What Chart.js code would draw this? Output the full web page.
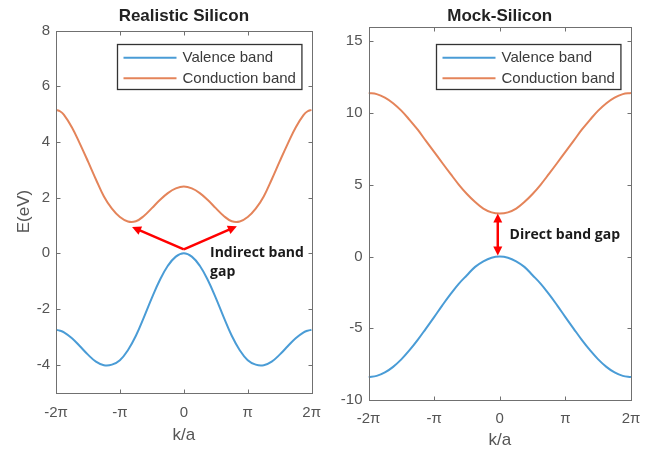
<!DOCTYPE html>
<html><head><meta charset="utf-8">
<script src="https://cdn.jsdelivr.net/npm/chart.js@4.4.1/dist/chart.umd.min.js"></script>
<style>
html,body{margin:0;padding:0;background:#fff;}
#wrap{position:relative;width:657px;height:452px;overflow:hidden;background:#fff;}
canvas{position:absolute;top:0;}
</style></head><body>
<div id="wrap">
<canvas id="left" width="332" height="452" style="left:0"></canvas>
<canvas id="right" width="332" height="452" style="left:325px"></canvas>
</div>
<script>
// ---- data (k in units of pi) ----
const realK = [-2,-1.9375,-1.875,-1.75,-1.625,-1.5,-1.375,-1.25,-1.125,-1,-0.875,-0.75,-0.625,-0.5,-0.375,-0.25,-0.125,0,0.125,0.25,0.375,0.5,0.625,0.75,0.875,1,1.125,1.25,1.375,1.5,1.625,1.75,1.875,1.9375,2];
const realValence = [-2.75,-2.78,-2.84,-3.05,-3.34,-3.64,-3.89,-4.02,-4.0,-3.84,-3.48,-2.96,-2.3,-1.6,-0.96,-0.45,-0.12,0,-0.12,-0.45,-0.96,-1.6,-2.3,-2.96,-3.48,-3.84,-4.0,-4.02,-3.89,-3.64,-3.34,-3.05,-2.84,-2.78,-2.75];
const realConduction = [5.15,5.1,4.97,4.52,3.93,3.3,2.65,2.04,1.6,1.3,1.14,1.15,1.34,1.62,1.91,2.16,2.33,2.4,2.33,2.16,1.91,1.62,1.34,1.15,1.14,1.3,1.6,2.04,2.65,3.3,3.93,4.52,4.97,5.1,5.15];
const mockK = [-2,-1.875,-1.75,-1.625,-1.5,-1.375,-1.25,-1.125,-1,-0.875,-0.75,-0.625,-0.5,-0.375,-0.25,-0.125,0,0.125,0.25,0.375,0.5,0.625,0.75,0.875,1,1.125,1.25,1.375,1.5,1.625,1.75,1.875,2];
const mockValence = [-8.4,-8.32,-8.08,-7.69,-7.17,-6.53,-5.81,-5.02,-4.22,-3.4,-2.62,-1.9,-1.3,-0.72,-0.33,-0.08,0,-0.08,-0.33,-0.72,-1.3,-1.9,-2.62,-3.4,-4.22,-5.02,-5.81,-6.53,-7.17,-7.69,-8.08,-8.32,-8.4];
const mockConduction = [11.4,11.32,11.08,10.69,10.17,9.53,8.84,8.06,7.3,6.52,5.76,5.02,4.36,3.8,3.34,3.08,3.0,3.08,3.34,3.8,4.36,5.02,5.76,6.52,7.3,8.06,8.84,9.53,10.17,10.69,11.08,11.32,11.4];
const seriesNames = ['Valence band','Conduction band'];
const xTickValues = [-2,-1,0,1,2];
const xTickLabels = ['-2π','-π','0','π','2π'];
const realYTicks = [-4,-2,0,2,4,6,8];
const mockYTicks = [-10,-5,0,5,10,15];
const chartTitles = ['Realistic Silicon','Mock-Silicon'];

const BLUE = '#4a9cd6', ORANGE = '#e4845a';
const FONT = '"Liberation Sans", Arial, sans-serif';

function drawArrow(ctx, x1, y1, x2, y2, both) {
  const hl = 9, hw = 4.5;
  const ang = Math.atan2(y2 - y1, x2 - x1);
  const cos = Math.cos(ang), sin = Math.sin(ang);
  const sx = both ? x1 + cos * hl * 0.8 : x1, sy = both ? y1 + sin * hl * 0.8 : y1;
  const ex = x2 - cos * hl * 0.8, ey = y2 - sin * hl * 0.8;
  ctx.beginPath(); ctx.moveTo(sx, sy); ctx.lineTo(ex, ey); ctx.stroke();
  const head = (tx, ty, a) => {
    const c = Math.cos(a), s = Math.sin(a);
    ctx.beginPath();
    ctx.moveTo(tx, ty);
    ctx.lineTo(tx - c * hl - s * hw, ty - s * hl + c * hw);
    ctx.lineTo(tx - c * hl + s * hw, ty - s * hl - c * hw);
    ctx.closePath(); ctx.fill();
  };
  head(x2, y2, ang);
  if (both) head(x1, y1, ang + Math.PI);
}

const matlabBox = {
  id: 'matlabBox',
  afterDraw(chart, args, opts) {
    const ctx = chart.ctx, a = chart.chartArea;
    const xs = chart.scales.x, ys = chart.scales.y;
    ctx.save();
    // annotations
    ctx.strokeStyle = '#ff0000'; ctx.fillStyle = '#ff0000'; ctx.lineWidth = 2.5;
    (opts.arrows || []).forEach(ar => {
      drawArrow(ctx, xs.getPixelForValue(ar.from[0]), ys.getPixelForValue(ar.from[1]),
        xs.getPixelForValue(ar.to[0]), ys.getPixelForValue(ar.to[1]), ar.both);
    });
    ctx.fillStyle = '#1a1a1a'; ctx.font = 'bold 14px "Open Sans", Lato, sans-serif';
    ctx.textAlign = 'left'; ctx.textBaseline = 'middle';
    (opts.texts || []).forEach(t => {
      const px = xs.getPixelForValue(t.x), py = ys.getPixelForValue(t.y);
      t.lines.forEach((ln, i) => ctx.fillText(ln, px, py + i * 19));
    });
    // box and inward ticks
    ctx.strokeStyle = '#707070'; ctx.lineWidth = 1;
    const L = Math.round(a.left) + 0.5, R = Math.round(a.right) + 0.5, T = Math.round(a.top) + 0.5, B = Math.round(a.bottom) + 0.5;
    ctx.strokeRect(L, T, R - L, B - T);
    ctx.beginPath();
    xs.ticks.forEach(t => {
      const p = Math.round(xs.getPixelForValue(t.value)) + 0.5;
      ctx.moveTo(p, B); ctx.lineTo(p, B - 4);
      ctx.moveTo(p, T); ctx.lineTo(p, T + 4);
    });
    ys.ticks.forEach(t => {
      const p = Math.round(ys.getPixelForValue(t.value)) + 0.5;
      ctx.moveTo(L, p); ctx.lineTo(L + 4, p);
      ctx.moveTo(R, p); ctx.lineTo(R - 4, p);
    });
    ctx.stroke();
    // legend
    const lg = opts.legend;
    ctx.font = '15px ' + FONT;
    const items = chart.data.datasets.map(d => ({ text: d.label, color: d.borderColor }));
    const tw = Math.max(...items.map(i => ctx.measureText(i.text).width));
    const w = 6 + 53 + 6 + tw + 6, h = 45;
    const x0 = Math.round(a.right - lg.right - w) + 0.5, y0 = Math.round(a.top + lg.top) + 0.5;
    ctx.fillStyle = '#fff'; ctx.fillRect(x0, y0, w, h);
    ctx.strokeStyle = '#333'; ctx.lineWidth = 1.3; ctx.strokeRect(x0, y0, w, h);
    items.forEach((it, i) => {
      const cy = y0 + 13.3 + i * 20.4;
      ctx.strokeStyle = it.color; ctx.lineWidth = 2;
      ctx.beginPath(); ctx.moveTo(x0 + 6, cy); ctx.lineTo(x0 + 59, cy); ctx.stroke();
      ctx.fillStyle = '#3a3a3a'; ctx.textBaseline = 'middle'; ctx.textAlign = 'left';
      ctx.fillText(it.text, x0 + 65, cy + 0.5);
    });
    ctx.restore();
  }
};

function makeChart(id, cfg) {
  const ds = (label, k, v, color) => ({
    label, data: k.map((x, i) => ({ x, y: v[i] })), borderColor: color, backgroundColor: color,
    borderWidth: 2, pointRadius: 0, tension: 0.4, fill: false
  });
  return new Chart(document.getElementById(id), {
    type: 'line',
    data: { datasets: [ds(seriesNames[0], cfg.k, cfg.val, BLUE), ds(seriesNames[1], cfg.k, cfg.cond, ORANGE)] },
    options: {
      responsive: false, animation: false, devicePixelRatio: 1,
      layout: { padding: { left: 0, right: cfg.padR, top: 0, bottom: 0 } },
      plugins: {
        legend: { display: false }, tooltip: { enabled: false },
        title: { display: true, text: cfg.title, fullSize: false, color: '#222',
          font: { family: FONT, size: 17, weight: 'bold' }, padding: { top: 6, bottom: cfg.titleBottom } },
        matlabBox: { legend: cfg.legend, arrows: cfg.arrows, texts: cfg.texts }
      },
      scales: {
        x: {
          type: 'linear', min: -2, max: 2,
          grid: { display: false, drawTicks: false }, border: { display: false },
          afterBuildTicks: s => { s.ticks = xTickValues.map(v => ({ value: v })); },
          ticks: { padding: cfg.xPad, color: '#555', font: { family: FONT, size: 15 }, autoSkip: false, maxRotation: 0,
            callback: v => xTickLabels[xTickValues.indexOf(v)] },
          title: { display: true, text: 'k/a', color: '#555', font: { family: FONT, size: 17 }, padding: { top: 0, bottom: cfg.xTitlePad } },
          afterFit: s => { s.height = cfg.xH; }
        },
        y: {
          type: 'linear', min: cfg.yMin, max: cfg.yMax,
          grid: { display: false, drawTicks: false }, border: { display: false },
          afterBuildTicks: s => { s.ticks = cfg.yTicks.map(v => ({ value: v })); },
          ticks: { padding: 6, color: '#555', font: { family: FONT, size: 15 }, autoSkip: false },
          title: { display: !!cfg.yTitle, text: cfg.yTitle || '', color: '#555', font: { family: FONT, size: 17 }, padding: { top: 14, bottom: 0 } },
          afterFit: s => { s.width = cfg.yW; }
        }
      }
    },
    plugins: [matlabBox]
  });
}

makeChart('left', {
  k: realK, val: realValence, cond: realConduction, title: chartTitles[0],
  padR: 20, titleBottom: 4.1, xH: 59.5, xPad: 11, xTitlePad: 6.8, yW: 56,
  yMin: -5, yMax: 8, yTicks: realYTicks, yTitle: 'E(eV)',
  legend: { right: 10, top: 13.5 },
  arrows: [ { from: [0, 0.14], to: [-0.81, 0.94], both: false }, { from: [0, 0.14], to: [0.83, 0.97], both: false } ],
  texts: [ { x: 0.41, y: 0.0, lines: ['Indirect band', 'gap'] } ]
});
makeChart('right', {
  k: mockK, val: mockValence, cond: mockConduction, title: chartTitles[1],
  padR: 26, titleBottom: 0.6, xH: 52, xPad: 10, xTitlePad: 1.8, yW: 43.5,
  yMin: -10, yMax: 16, yTicks: mockYTicks, yTitle: '',
  legend: { right: 11, top: 17 },
  arrows: [ { from: [-0.03, 0.07], to: [-0.03, 3.0], both: true } ],
  texts: [ { x: 0.15, y: 1.5, lines: ['Direct band gap'] } ]
});
</script>
</body></html>
